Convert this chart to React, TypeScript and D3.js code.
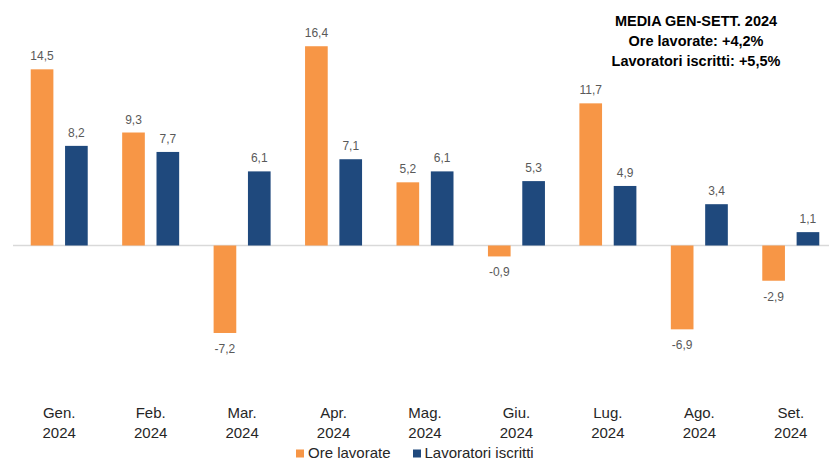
import React from "react";
import * as d3 from "d3";

const months = ["Gen.", "Feb.", "Mar.", "Apr.", "Mag.", "Giu.", "Lug.", "Ago.", "Set."];
const year = "2024";
const series = ["Ore lavorate", "Lavoratori iscritti"];
const oreLavorate = [14.5, 9.3, -7.2, 16.4, 5.2, -0.9, 11.7, -6.9, -2.9];
const lavoratoriIscritti = [8.2, 7.7, 6.1, 7.1, 6.1, 5.3, 4.9, 3.4, 1.1];
const colors = ["#F79646", "#1F497D"];
const titleLines = ["MEDIA GEN-SETT. 2024", "Ore lavorate: +4,2%", "Lavoratori iscritti: +5,5%"];

const W = 829;
const H = 461;

const fmt = (v: number) => v.toFixed(1).replace(".", ",");

const App: React.FC = () => {
  const x0 = d3.scaleBand<string>().domain(months).range([13.5, 836.5]);
  const x1 = d3.scaleBand<string>().domain(series).range([-28.5, 28.5]).paddingInner(0.34);
  const y = d3.scaleLinear().domain([-12, 18]).range([391.3, 26.8]);
  const valuesBy = [oreLavorate, lavoratoriIscritti];
  const font = "'Liberation Sans', Arial, sans-serif";

  return (
    <svg width={W} height={H} style={{ position: "absolute", left: 0, top: 0 }} fontFamily={font}>
      <rect width={W} height={H} fill="#fff" />
      <line x1={13} x2={W} y1={y(0)} y2={y(0)} stroke="#D9D9D9" strokeWidth={1.5} />
      {months.map((m, i) => {
        const cx = x0(m)! + x0.bandwidth() / 2;
        return (
          <g key={m}>
            {series.map((s, j) => {
              const v = valuesBy[j][i];
              const bx = cx + x1(s)!;
              const top = Math.min(y(v), y(0));
              const h = Math.abs(y(v) - y(0));
              return (
                <g key={s}>
                  <rect x={bx} y={top} width={x1.bandwidth()} height={h} fill={colors[j]} />
                  <text
                    x={bx + x1.bandwidth() / 2}
                    y={v >= 0 ? y(v) - 9 : y(v) + 20}
                    textAnchor="middle"
                    fontSize={12}
                    fill="#595959"
                  >
                    {fmt(v)}
                  </text>
                </g>
              );
            })}
            <text x={cx} y={418} textAnchor="middle" fontSize={15} fill="#262626">{m}</text>
            <text x={cx} y={438} textAnchor="middle" fontSize={15} fill="#262626">{year}</text>
          </g>
        );
      })}
      {/* legend */}
      <g>
        <rect x={296} y={449.5} width={8} height={8} fill={colors[0]} />
        <text x={308} y={457.5} fontSize={15} fill="#262626">{series[0]}</text>
        <rect x={413} y={449.5} width={8} height={8} fill={colors[1]} />
        <text x={424.5} y={457.5} fontSize={15} fill="#262626">{series[1]}</text>
      </g>
      {/* summary box */}
      {titleLines.map((t, i) => (
        <text key={t} x={696} y={26 + i * 20} textAnchor="middle" fontSize={14.5} fontWeight="bold" fill="#000">
          {t}
        </text>
      ))}
    </svg>
  );
};

export default App;
